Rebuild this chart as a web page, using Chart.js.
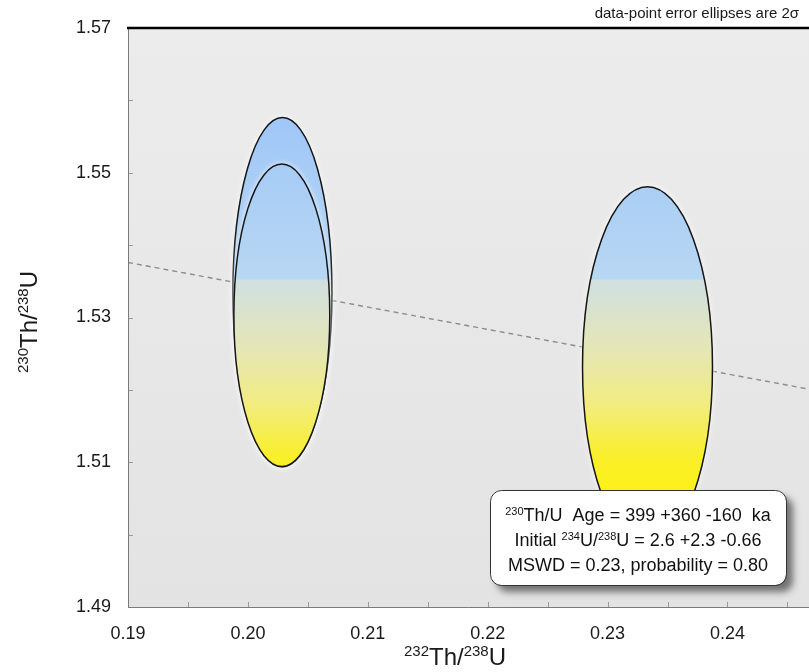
<!DOCTYPE html>
<html>
<head>
<meta charset="utf-8">
<script src="https://cdn.jsdelivr.net/npm/chart.js@4.4.1/dist/chart.umd.min.js"></script>
<style>
  html, body { margin: 0; padding: 0; background: #fff; }
  #wrap { width: 809px; height: 672px; }
</style>
</head>
<body>
<div id="wrap"><canvas id="chart" width="809" height="672"></canvas></div>
<script>
// error ellipses (2 sigma): centres and half-axes
const ellipseX = [0.20288, 0.20283, 0.23333];
const ellipseY = [1.53349, 1.53030, 1.52319];
const ellipseSx = [0.00413, 0.00400, 0.00542];
const ellipseSy = [0.02413, 0.02090, 0.02489];

// isochron end points
const isoX = [0.19, 0.2468];
const isoY = [1.5376, 1.5201];

const xTickLabels = ['0.19', '0.20', '0.21', '0.22', '0.23', '0.24'];
const xMinorTicks = [0.195, 0.205, 0.215, 0.225, 0.235, 0.245];
const yTickLabels = ['1.49', '1.51', '1.53', '1.55', '1.57'];
const yMinorTicks = [1.50, 1.52, 1.54, 1.56];

const FONT = "'Liberation Sans', Arial, sans-serif";

// text runs: [text, isSuperscript]
const xTitle = [['232', true], ['Th/', false], ['238', true], ['U', false]];
const yTitle = [['230', true], ['Th/', false], ['238', true], ['U', false]];
const statsLines = [
  [['230', true], ['Th/U  Age = 399 +360 -160  ka', false]],
  [['Initial ', false], ['234', true], ['U/', false], ['238', true], ['U = 2.6 +2.3 -0.66', false]],
  [['MSWD = 0.23, probability = 0.80', false]]
];
const noteText = 'data-point error ellipses are 2\u03C3';

function drawRuns(ctx, runs, x, y, size, align) {
  const supSize = Math.round(size * 0.62);
  const widths = runs.map(([t, sup]) => {
    ctx.font = (sup ? supSize : size) + 'px ' + FONT;
    return ctx.measureText(t).width;
  });
  const total = widths.reduce((a, b) => a + b, 0);
  let cx = align === 'center' ? x - total / 2 : x;
  ctx.textAlign = 'left';
  ctx.textBaseline = 'alphabetic';
  runs.forEach(([t, sup], i) => {
    ctx.font = (sup ? supSize : size) + 'px ' + FONT;
    ctx.fillText(t, cx, sup ? y - size * 0.36 : y);
    cx += widths[i];
  });
}

const plotDecor = {
  id: 'plotDecor',
  beforeDatasetsDraw(chart) {
    const { ctx, chartArea: a } = chart;
    ctx.save();
    const bg = ctx.createLinearGradient(0, a.top, 0, a.bottom);
    bg.addColorStop(0, '#ececec');
    bg.addColorStop(1, '#e3e3e3');
    ctx.fillStyle = bg;
    ctx.fillRect(a.left, a.top, a.right - a.left, a.bottom - a.top);

    // inward tick marks
    const xs = chart.scales.x, ys = chart.scales.y;
    ctx.strokeStyle = '#9a9a9a';
    ctx.lineWidth = 1;
    ctx.beginPath();
    xTickLabels.map(Number).concat(xMinorTicks).forEach(v => {
      const px = Math.round(xs.getPixelForValue(v)) + 0.5;
      ctx.moveTo(px, a.bottom);
      ctx.lineTo(px, a.bottom - 5);
    });
    yTickLabels.map(Number).concat(yMinorTicks).forEach(v => {
      const py = Math.round(ys.getPixelForValue(v)) + 0.5;
      ctx.moveTo(a.left, py);
      ctx.lineTo(a.left + 5, py);
    });
    ctx.stroke();
    ctx.restore();
  },
  afterDatasetsDraw(chart) {
    const { ctx, chartArea: a } = chart;
    const xs = chart.scales.x, ys = chart.scales.y;
    const top = ys.getPixelForValue(1.56), bot = ys.getPixelForValue(1.50);
    const at = v => (ys.getPixelForValue(v) - top) / (bot - top);
    const fill = ctx.createLinearGradient(0, top, 0, bot);
    fill.addColorStop(0, '#9cc5f8');
    fill.addColorStop(at(1.5353), '#b8d7f2');
    fill.addColorStop(at(1.5352), '#cfe0e0');
    fill.addColorStop(at(1.526), '#e4e6b8');
    fill.addColorStop(at(1.518), '#f2ec80');
    fill.addColorStop(at(1.511), '#f9ef2c');
    fill.addColorStop(1, '#fff300');

    ctx.save();
    ctx.beginPath();
    ctx.rect(a.left, a.top, a.right - a.left, a.bottom - a.top);
    ctx.clip();
    ellipseX.forEach((cx, i) => {
      const px = xs.getPixelForValue(cx);
      const py = ys.getPixelForValue(ellipseY[i]);
      const rx = Math.abs(xs.getPixelForValue(cx + ellipseSx[i]) - px);
      const ry = Math.abs(ys.getPixelForValue(ellipseY[i] + ellipseSy[i]) - py);
      ctx.beginPath();
      ctx.ellipse(px, py, rx, ry, 0, 0, Math.PI * 2);
      ctx.save();
      ctx.shadowColor = 'rgba(255,255,255,0.95)';
      ctx.shadowBlur = 6;
      ctx.fillStyle = fill;
      ctx.fill();
      ctx.restore();
      ctx.lineWidth = 1.5;
      ctx.strokeStyle = '#151515';
      ctx.stroke();
    });
    ctx.restore();
  },
  afterDraw(chart) {
    const { ctx, chartArea: a } = chart;
    ctx.save();
    // frame
    ctx.strokeStyle = '#7a7a7a';
    ctx.lineWidth = 1;
    ctx.beginPath();
    ctx.moveTo(a.left + 0.5, a.top);
    ctx.lineTo(a.left + 0.5, a.bottom + 0.5);
    ctx.lineTo(a.right, a.bottom + 0.5);
    ctx.stroke();
    ctx.strokeStyle = '#000';
    ctx.lineWidth = 2.5;
    ctx.beginPath();
    ctx.moveTo(a.left - 1, a.top);
    ctx.lineTo(a.right, a.top);
    ctx.stroke();

    ctx.fillStyle = '#1a1a1a';
    // axis titles
    drawRuns(ctx, xTitle, 455, 665, 24, 'center');
    ctx.save();
    ctx.translate(37, 322);
    ctx.rotate(-Math.PI / 2);
    drawRuns(ctx, yTitle, 0, 0, 24, 'center');
    ctx.restore();

    // note above the plot
    ctx.font = '15px ' + FONT;
    ctx.textAlign = 'right';
    ctx.textBaseline = 'alphabetic';
    ctx.fillText(noteText, 799, 18);

    // result box
    const bx = 490, by = 490, bw = 296, bh = 95;
    ctx.save();
    ctx.shadowColor = 'rgba(0,0,0,0.5)';
    ctx.shadowBlur = 7;
    ctx.shadowOffsetX = 7;
    ctx.shadowOffsetY = 7;
    ctx.beginPath();
    ctx.roundRect(bx, by, bw, bh, 11);
    ctx.fillStyle = '#fff';
    ctx.fill();
    ctx.restore();
    ctx.beginPath();
    ctx.roundRect(bx + 0.5, by + 0.5, bw, bh, 11);
    ctx.strokeStyle = '#333';
    ctx.lineWidth = 1;
    ctx.stroke();
    ctx.fillStyle = '#111';
    statsLines.forEach((runs, i) => {
      drawRuns(ctx, runs, bx + bw / 2, by + 31 + i * 25, 18, 'center');
    });
    ctx.restore();
  }
};

new Chart(document.getElementById('chart'), {
  type: 'scatter',
  data: {
    datasets: [
      {
        label: 'isochron',
        data: isoX.map((x, i) => ({ x, y: isoY[i] })),
        showLine: true,
        borderColor: '#8c8c8c',
        borderWidth: 1.4,
        borderDash: [5, 4],
        pointRadius: 0,
        fill: false
      },
      {
        label: 'centres',
        data: ellipseX.map((x, i) => ({ x, y: ellipseY[i] })),
        pointRadius: 0
      }
    ]
  },
  options: {
    responsive: false,
    animation: false,
    layout: { padding: { top: 28, left: 0, right: 0, bottom: 0 } },
    plugins: {
      legend: { display: false },
      tooltip: { enabled: false }
    },
    scales: {
      x: {
        type: 'linear',
        min: 0.19,
        max: 0.2468,
        grid: { display: false },
        border: { display: false },
        afterBuildTicks: s => { s.ticks = xTickLabels.map(v => ({ value: Number(v) })); },
        afterFit: s => { s.height = 65; },
        ticks: {
          padding: 8,
          color: '#1a1a1a',
          font: { family: FONT, size: 18 },
          maxRotation: 0,
          autoSkip: false,
          callback: v => v.toFixed(2)
        }
      },
      y: {
        type: 'linear',
        min: 1.49,
        max: 1.57,
        grid: { display: false },
        border: { display: false },
        afterBuildTicks: s => { s.ticks = yTickLabels.map(v => ({ value: Number(v) })); },
        afterFit: s => { s.width = 128; },
        ticks: {
          padding: 9,
          color: '#1a1a1a',
          font: { family: FONT, size: 18 },
          autoSkip: false,
          callback: v => v.toFixed(2)
        }
      }
    }
  },
  plugins: [plotDecor]
});
</script>
</body>
</html>
